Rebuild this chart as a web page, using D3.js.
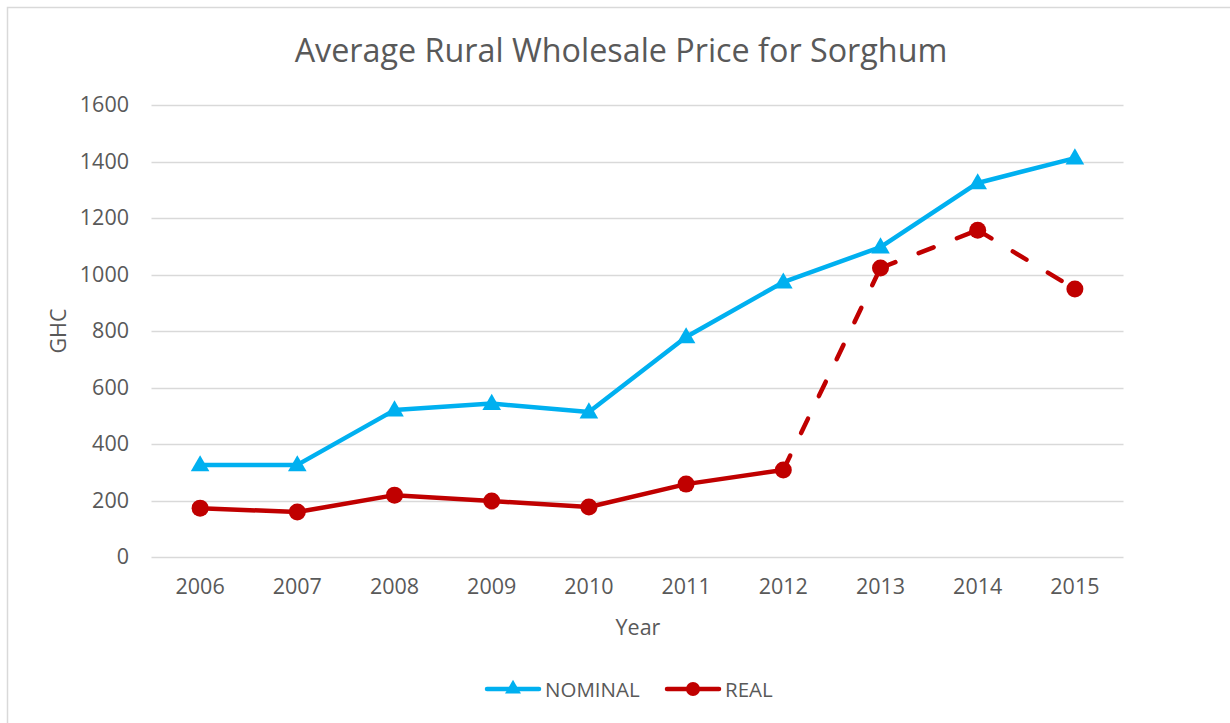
<!DOCTYPE html>
<html>
<head>
  <title>Average Rural Wholesale Price for Sorghum</title>
  <script src="https://d3js.org/d3.v7.min.js"></script>
  <style>
    body { margin: 0; background: #fff; }
    text { font-family: "Open Sans", sans-serif; fill: #595959; }
    .grid line { stroke: #d9d9d9; stroke-width: 1.3px; }
  </style>
</head>
<body>
  <script>
    var years = ["2006", "2007", "2008", "2009", "2010", "2011", "2012", "2013", "2014", "2015"];
    var nominal = [326, 326, 520, 543, 513, 779, 973, 1097, 1324, 1412];
    var real = [173, 159, 219, 198, 177, 258, 308, 1023, 1157, 949];
    var yTicks = [0, 200, 400, 600, 800, 1000, 1200, 1400, 1600];
    var dashedFrom = 6; // real series is dashed from 2012 onwards

    var width = 1230, height = 723;
    var blue = "#00B0F0", red = "#C00000";

    var svg = d3.select("body").append("svg")
        .attr("width", width)
        .attr("height", height);

    // chart frame (only top and left edges are visible in the crop)
    svg.append("path")
        .attr("d", "M7.5," + height + "V7.5H" + width)
        .attr("fill", "none")
        .attr("stroke", "#d9d9d9")
        .attr("stroke-width", 1.5);

    var x = d3.scaleBand().domain(years).range([151.5, 1123.5]);
    var y = d3.scaleLinear().domain([0, 1600]).range([557, 105]);
    var cx = function(d) { return x(d) + x.bandwidth() / 2; };

    // gridlines
    svg.append("g")
        .attr("class", "grid")
        .selectAll("line")
        .data(yTicks)
        .enter().append("line")
        .attr("x1", 151.5)
        .attr("x2", 1123.5)
        .attr("y1", function(d) { return Math.round(y(d)) + 0.5; })
        .attr("y2", function(d) { return Math.round(y(d)) + 0.5; });

    // y axis labels
    var yAxis = svg.append("g")
        .attr("transform", "translate(129,0)")
        .call(d3.axisLeft(y).tickValues(yTicks).tickFormat(d3.format("d")).tickSize(0).tickPadding(0));
    yAxis.select(".domain").remove();
    yAxis.selectAll("text")
        .attr("font-size", 21.5)
        .attr("font-family", "Open Sans")
        .attr("fill", "#595959");

    // x axis labels
    var xAxis = svg.append("g")
        .attr("transform", "translate(0,557)")
        .call(d3.axisBottom(x).tickSize(0).tickPadding(22));
    xAxis.select(".domain").remove();
    xAxis.selectAll("text")
        .attr("font-size", 21.5)
        .attr("font-family", "Open Sans")
        .attr("fill", "#595959");

    // titles
    svg.append("text")
        .attr("x", 621).attr("y", 62)
        .attr("text-anchor", "middle")
        .attr("font-size", 32.3)
        .text("Average Rural Wholesale Price for Sorghum");

    svg.append("text")
        .attr("x", 638).attr("y", 635)
        .attr("text-anchor", "middle")
        .attr("font-size", 21.5)
        .text("Year");

    svg.append("text")
        .attr("transform", "translate(66,331) rotate(-90)")
        .attr("text-anchor", "middle")
        .attr("font-size", 21.5)
        .text("GHC");

    var line = d3.line()
        .x(function(d) { return cx(d.year); })
        .y(function(d) { return y(d.value); });

    var nomData = years.map(function(yr, i) { return {year: yr, value: nominal[i]}; });
    var realData = years.map(function(yr, i) { return {year: yr, value: real[i]}; });

    var tri = d3.symbol().type(d3.symbolTriangle).size(150);

    // nominal series
    svg.append("path")
        .datum(nomData)
        .attr("d", line)
        .attr("fill", "none")
        .attr("stroke", blue)
        .attr("stroke-width", 4.5)
        .attr("stroke-linejoin", "round")
        .attr("stroke-linecap", "round");

    svg.append("g").selectAll("path")
        .data(nomData)
        .enter().append("path")
        .attr("d", tri)
        .attr("transform", function(d) { return "translate(" + cx(d.year) + "," + (y(d.value) + 1) + ")"; })
        .attr("fill", blue);

    // real series: solid part
    svg.append("path")
        .datum(realData.slice(0, dashedFrom + 1))
        .attr("d", line)
        .attr("fill", "none")
        .attr("stroke", red)
        .attr("stroke-width", 4.5)
        .attr("stroke-linejoin", "round")
        .attr("stroke-linecap", "round");

    // real series: dashed part, one segment per pair so dashes restart at each point
    for (var i = dashedFrom; i < realData.length - 1; i++) {
        svg.append("path")
            .datum([realData[i], realData[i + 1]])
            .attr("d", line)
            .attr("fill", "none")
            .attr("stroke", red)
            .attr("stroke-width", 4.5)
            .attr("stroke-linecap", "round")
            .attr("stroke-dasharray", "16,25");
    }

    svg.append("g").selectAll("circle")
        .data(realData)
        .enter().append("circle")
        .attr("cx", function(d) { return cx(d.year); })
        .attr("cy", function(d) { return y(d.value); })
        .attr("r", 8.5)
        .attr("fill", red);

    // legend
    var legend = [
        {name: "NOMINAL", color: blue, x: 487, marker: "tri"},
        {name: "REAL", color: red, x: 667, marker: "circle"}
    ];
    var lg = svg.append("g").selectAll("g")
        .data(legend)
        .enter().append("g")
        .attr("transform", function(d) { return "translate(" + d.x + ",689)"; });

    lg.append("line")
        .attr("x1", 0).attr("x2", 52)
        .attr("stroke", function(d) { return d.color; })
        .attr("stroke-width", 4.5)
        .attr("stroke-linecap", "round");

    lg.filter(function(d) { return d.marker === "tri"; })
        .append("path")
        .attr("d", d3.symbol().type(d3.symbolTriangle).size(110))
        .attr("transform", "translate(26,0)")
        .attr("fill", blue);

    lg.filter(function(d) { return d.marker === "circle"; })
        .append("circle")
        .attr("cx", 26).attr("r", 7)
        .attr("fill", red);

    lg.append("text")
        .attr("x", 58).attr("y", 7.5)
        .attr("font-size", 20.5)
        .text(function(d) { return d.name; });
  </script>
</body>
</html>
